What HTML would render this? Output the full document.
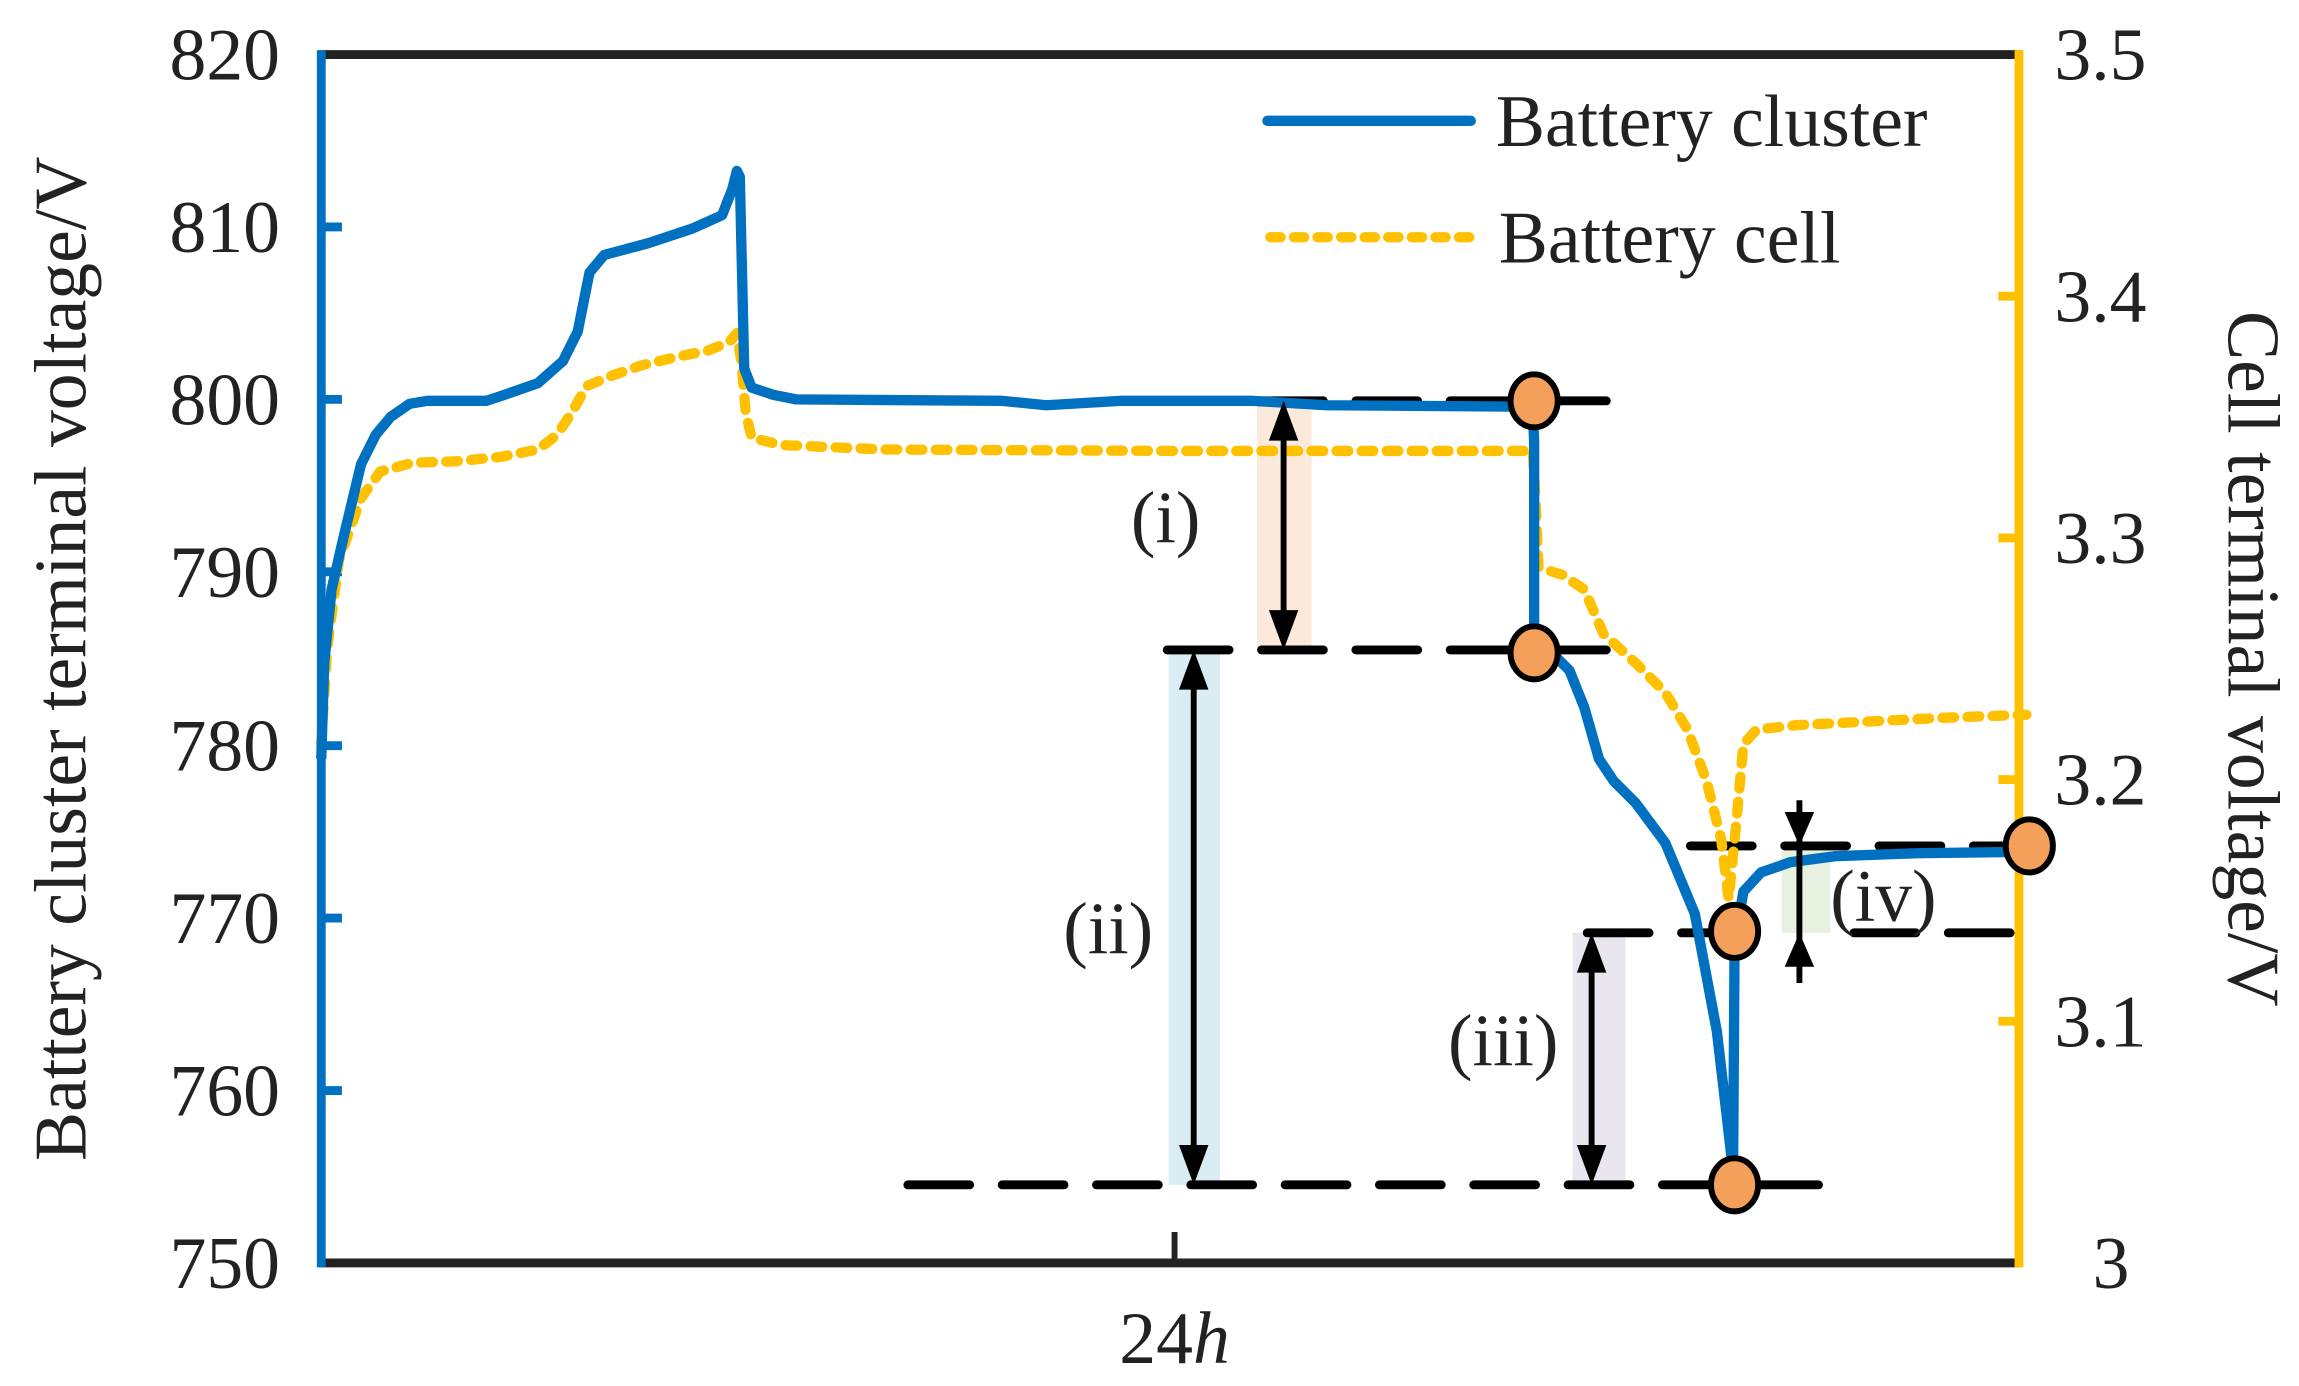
<!DOCTYPE html>
<html><head><meta charset="utf-8"><style>
html,body{margin:0;padding:0;background:#fff;}
svg{display:block;}
text{font-family:"Liberation Serif","Times New Roman",serif;fill:#222;}
</style></head><body>
<svg width="2299" height="1386" viewBox="0 0 1560 940.5" preserveAspectRatio="none" xmlns="http://www.w3.org/2000/svg">
<rect x="853" y="272" width="37" height="169" fill="#fbe9dc"/>
<rect x="793" y="441" width="35" height="363" fill="#d9edf2"/>
<rect x="1067" y="633" width="36" height="171" fill="#e9e6ef"/>
<rect x="1209" y="574" width="33" height="59" fill="#e8f0e0"/>

<line x1="218" y1="37" x2="1370" y2="37" stroke="#222" stroke-width="6"/>
<line x1="218" y1="857" x2="1370" y2="857" stroke="#222" stroke-width="6"/>
<line x1="218" y1="34" x2="218" y2="860" stroke="#0070c0" stroke-width="6"/>
<line x1="1370" y1="34" x2="1370" y2="860" stroke="#ffc000" stroke-width="6"/>
<g stroke="#0070c0" stroke-width="6">
<line x1="218" y1="154" x2="232" y2="154"/><line x1="218" y1="271" x2="232" y2="271"/>
<line x1="218" y1="388" x2="232" y2="388"/><line x1="218" y1="506" x2="232" y2="506"/>
<line x1="218" y1="623" x2="232" y2="623"/><line x1="218" y1="740" x2="232" y2="740"/>
</g>
<g stroke="#ffc000" stroke-width="6">
<line x1="1356" y1="201" x2="1370" y2="201"/><line x1="1356" y1="365" x2="1370" y2="365"/>
<line x1="1356" y1="529" x2="1370" y2="529"/><line x1="1356" y1="693" x2="1370" y2="693"/>
</g>
<line x1="797" y1="836" x2="797" y2="857" stroke="#222" stroke-width="4"/>

<g font-size="50" text-anchor="end">
<text x="190" y="54">820</text><text x="190" y="171">810</text><text x="190" y="288">800</text>
<text x="190" y="405">790</text><text x="190" y="523">780</text><text x="190" y="640">770</text>
<text x="190" y="757">760</text><text x="190" y="874">750</text>
</g>
<g font-size="50" text-anchor="start">
<text x="1394" y="54">3.5</text><text x="1394" y="218">3.4</text><text x="1394" y="382">3.3</text>
<text x="1394" y="546">3.2</text><text x="1394" y="710">3.1</text><text x="1420" y="874">3</text>
</g>
<text x="797" y="925" font-size="50" text-anchor="middle">24<tspan font-style="italic">h</tspan></text>
<text transform="translate(58,447) rotate(-90)" font-size="50" text-anchor="middle">Battery cluster terminal voltage/V</text>
<text transform="translate(1512,447) rotate(90)" font-size="50" text-anchor="middle">Cell terminal voltage/V</text>

<line x1="860" y1="82" x2="998" y2="82" stroke="#0070c0" stroke-width="7" stroke-linecap="round"/>
<text x="1015" y="99" font-size="50">Battery cluster</text>
<line x1="862" y1="161" x2="998" y2="161" stroke="#ffc000" stroke-width="7" stroke-dasharray="7 9" stroke-linecap="round"/>
<text x="1017" y="178" font-size="50">Battery cell</text>

<g stroke="#000" stroke-width="6" stroke-dasharray="42 22" stroke-linecap="round" fill="none">
<line x1="792" y1="272" x2="1092" y2="272"/>
<line x1="792" y1="441" x2="1092" y2="441"/>
<line x1="616" y1="804" x2="1242" y2="804"/>
<line x1="1077" y1="633" x2="1196" y2="633"/>
<line x1="1258" y1="633" x2="1364" y2="633"/>
<line x1="1147" y1="574" x2="1364" y2="574"/>
</g>

<polyline fill="none" stroke="#ffc000" stroke-width="7" stroke-dasharray="8 9" stroke-linecap="round" stroke-linejoin="round"
points="218,505 222,440 230,380 245,338 258,320 280,314 310,313 340,310 365,305 378,295 388,280 398,262 415,255 435,248 460,242 480,238 495,232 500,226 503,245 506,280 510,297 530,302 600,305 800,306 1000,306 1040,306 1042,340 1044,385 1060,390 1075,400 1088,430 1110,450 1130,470 1145,495 1158,530 1168,570 1173,610 1178,560 1183,505 1192,495 1220,492 1260,490 1320,487 1375,485"/>

<polyline fill="none" stroke="#0070c0" stroke-width="7" stroke-linejoin="round"
points="218,515 220,450 225,400 233,365 245,315 255,295 265,283 278,274 290,272 330,272 345,267 365,260 382,245 392,225 400,185 410,173 440,165 470,155 490,146 497,128 500,116 502,120 505,250 510,263 525,268 540,271 680,272 710,275 760,272 850,272 900,275 1040,276 1041,300 1041,440 1055,445 1065,455 1075,480 1085,515 1095,530 1110,545 1130,572 1150,620 1165,700 1172,760 1176,795 1177,640 1183,605 1195,592 1215,585 1245,581 1300,579 1375,578"/>

<g stroke="#000" stroke-width="4">
<line x1="871" y1="285" x2="871" y2="430"/>
<line x1="810" y1="455" x2="810" y2="792"/>
<line x1="1080" y1="645" x2="1080" y2="792"/>
<line x1="1221" y1="543" x2="1221" y2="667"/>
</g>
<g fill="#000">
<polygon points="871,272 861,299 881,299"/><polygon points="871,441 861,414 881,414"/>
<polygon points="810,441 800,468 820,468"/><polygon points="810,804 800,777 820,777"/>
<polygon points="1080,633 1070,660 1090,660"/><polygon points="1080,804 1070,777 1090,777"/>
<polygon points="1221,574 1211,551 1231,551"/><polygon points="1221,633 1211,656 1231,656"/>
</g>

<g font-size="50" text-anchor="middle">
<text x="791" y="368">(i)</text>
<text x="752" y="647">(ii)</text>
<text x="1020" y="723">(iii)</text>
<text x="1278" y="625">(iv)</text>
</g>

<g fill="#f4a05a" stroke="#000" stroke-width="4">
<ellipse cx="1041" cy="272" rx="16" ry="18"/>
<ellipse cx="1041" cy="443" rx="16" ry="18"/>
<ellipse cx="1177" cy="632" rx="16" ry="18"/>
<ellipse cx="1177" cy="804" rx="16" ry="18"/>
<ellipse cx="1377" cy="574" rx="16" ry="18"/>
</g>
</svg>
</body></html>
